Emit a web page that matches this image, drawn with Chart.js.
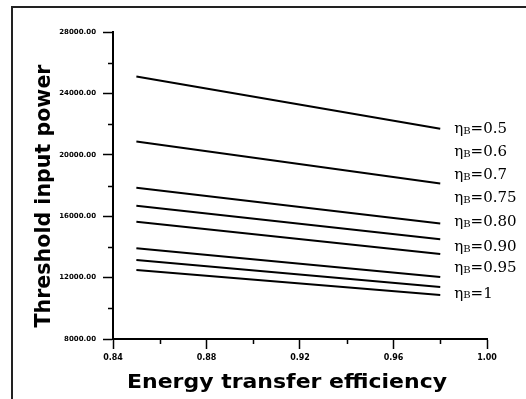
<!DOCTYPE html>
<html>
<head>
<meta charset="utf-8">
<script src="https://cdn.jsdelivr.net/npm/chart.js@4.4.1/dist/chart.umd.min.js"></script>
<style>
    html, body { margin: 0; padding: 0; background: #fff; }
    #wrap { width: 526px; height: 399px; }
</style>
</head>
<body>
<div id="wrap"><canvas id="thresholdChart" width="526" height="399"></canvas></div>
<script>
// ---- data ----
const efficiency = [0.85, 0.98];
const etaB = ['0.5', '0.6', '0.7', '0.75', '0.80', '0.90', '0.95', '1'];
const power_05 = [25100, 21700];
const power_06 = [20870, 18130];
const power_07 = [17850, 15520];
const power_075 = [16680, 14500];
const power_080 = [15640, 13540];
const power_090 = [13910, 12040];
const power_095 = [13150, 11390];
const power_1 = [12500, 10870];
// where the eta_B labels sit (x in efficiency, y in power units)
const labelX = 0.986;
const labelY = [21680, 20180, 18680, 17190, 15620, 13990, 12630, 10940];

(function() {
    'use strict';

    const series = [power_05, power_06, power_07, power_075, power_080, power_090, power_095, power_1];

    const isMajorY = (v) => Math.round(v) % 4000 === 0;
    const isMajorX = (v) => Math.round(v * 100) % 4 === 0;

    /* ========================================
       extras: frame, minor ticks, titles, labels
       ======================================== */
    const extras = {
        id: 'extras',
        beforeDraw(chart) {
            const ctx = chart.ctx;
            ctx.save();
            ctx.fillStyle = '#fff';
            ctx.fillRect(0, 0, chart.width, chart.height);
            ctx.strokeStyle = '#222';
            ctx.lineWidth = 2;
            ctx.strokeRect(12, 7, 600, 500);
            ctx.restore();
        },
        afterDraw(chart) {
            const ctx = chart.ctx;
            const xs = chart.scales.x, ys = chart.scales.y;
            const area = chart.chartArea;

            // minor ticks
            ctx.save();
            ctx.strokeStyle = '#000';
            ctx.lineWidth = 1.5;
            ctx.beginPath();
            ys.ticks.forEach(t => {
                if (isMajorY(t.value)) return;
                const py = Math.round(ys.getPixelForValue(t.value)) + 0.5;
                ctx.moveTo(area.left - 5, py);
                ctx.lineTo(area.left, py);
            });
            xs.ticks.forEach(t => {
                if (isMajorX(t.value)) return;
                const px = Math.round(xs.getPixelForValue(t.value)) + 0.5;
                ctx.moveTo(px, area.bottom);
                ctx.lineTo(px, area.bottom + 5);
            });
            ctx.stroke();
            ctx.restore();

            // axis titles
            ctx.save();
            ctx.fillStyle = '#000';
            ctx.textAlign = 'center';
            ctx.textBaseline = 'alphabetic';
            ctx.font = 'bold 19px "DejaVu Sans"';
            const xt = 'Energy transfer efficiency';
            const xw = ctx.measureText(xt).width;
            ctx.translate(287, 388);
            ctx.scale(320 / xw, 1);
            ctx.fillText(xt, 0, 0);
            ctx.restore();

            ctx.save();
            ctx.fillStyle = '#000';
            ctx.textAlign = 'center';
            ctx.textBaseline = 'alphabetic';
            ctx.font = 'bold 22px "DejaVu Sans"';
            const yt = 'Threshold input power';
            const yw = ctx.measureText(yt).width;
            ctx.translate(50, 196);
            ctx.rotate(-Math.PI / 2);
            ctx.scale(263 / yw, 1);
            ctx.fillText(yt, 0, 0);
            ctx.restore();

            // eta_B labels
            ctx.save();
            ctx.fillStyle = '#000';
            ctx.textAlign = 'left';
            ctx.textBaseline = 'middle';
            etaB.forEach((name, i) => {
                let px = xs.getPixelForValue(labelX);
                const py = ys.getPixelForValue(labelY[i]);
                ctx.font = '15px "DejaVu Serif"';
                ctx.fillText('\u03B7', px, py);
                px += ctx.measureText('\u03B7').width;
                ctx.font = '10px "DejaVu Serif"';
                ctx.fillText('B', px, py + 2);
                px += ctx.measureText('B').width;
                ctx.font = '15px "DejaVu Serif"';
                ctx.fillText('=' + name, px, py);
            });
            ctx.restore();
        }
    };

    const el = document.getElementById('thresholdChart');
    if (!el) {
        console.error('canvas not found');
        return;
    }

    new Chart(el.getContext('2d'), {
        type: 'line',
        data: {
            datasets: series.map((vals, i) => ({
                label: 'etaB=' + etaB[i],
                data: efficiency.map((x, j) => ({ x: x, y: vals[j] })),
                borderColor: '#000',
                borderWidth: 2,
                pointRadius: 0,
                fill: false,
                tension: 0
            }))
        },
        options: {
            responsive: false,
            animation: false,
            devicePixelRatio: 1,
            layout: { padding: { top: 32, right: 39, left: 0, bottom: 0 } },
            plugins: {
                legend: { display: false },
                tooltip: { enabled: false }
            },
            scales: {
                x: {
                    type: 'linear',
                    min: 0.84,
                    max: 1.00,
                    afterFit: (s) => { s.height = 60; },
                    ticks: {
                        stepSize: 0.02,
                        autoSkip: false,
                        maxRotation: 0,
                        padding: 4,
                        color: '#000',
                        font: { family: '"DejaVu Sans"', size: 8, weight: 'bold' },
                        callback: (v) => isMajorX(v) ? Number(v).toFixed(2) : ''
                    },
                    grid: {
                        drawOnChartArea: false,
                        drawTicks: true,
                        tickLength: 10,
                        tickWidth: 1.5,
                        tickColor: (c) => (c.tick && isMajorX(c.tick.value)) ? '#000' : 'rgba(0,0,0,0)'
                    },
                    border: { display: true, color: '#000', width: 2 }
                },
                y: {
                    type: 'linear',
                    min: 8000,
                    max: 28000,
                    afterFit: (s) => { s.width = 113; },
                    ticks: {
                        stepSize: 2000,
                        autoSkip: false,
                        padding: 7,
                        color: '#000',
                        font: { family: '"DejaVu Sans"', size: 7, weight: 'bold' },
                        callback: (v) => isMajorY(v) ? Number(v).toFixed(2) : ''
                    },
                    grid: {
                        drawOnChartArea: false,
                        drawTicks: true,
                        tickLength: 10,
                        tickWidth: 1.5,
                        tickColor: (c) => (c.tick && isMajorY(c.tick.value)) ? '#000' : 'rgba(0,0,0,0)'
                    },
                    border: { display: true, color: '#000', width: 2 }
                }
            }
        },
        plugins: [extras]
    });
})();
</script>
</body>
</html>
